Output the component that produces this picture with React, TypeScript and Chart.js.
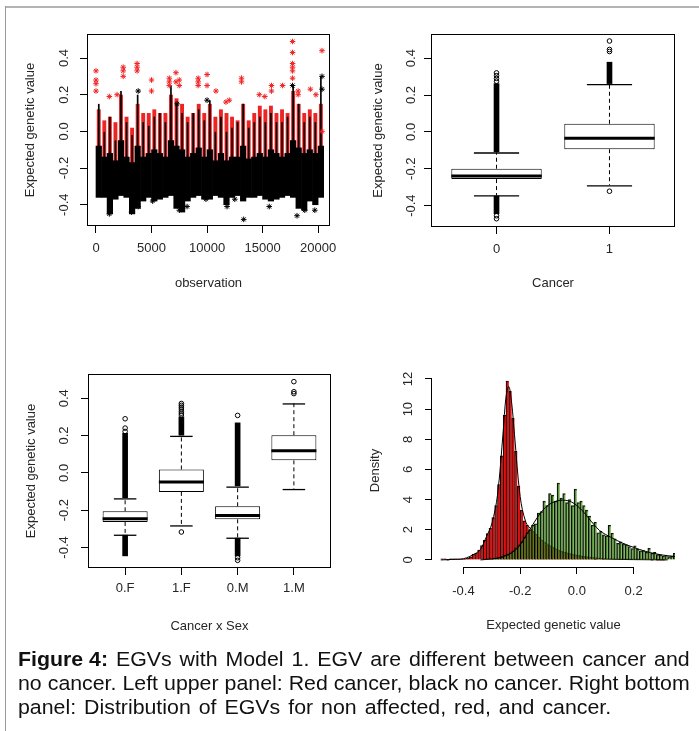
import React, { useEffect, useRef } from 'react';
import { Chart, registerables } from 'chart.js';

Chart.register(...registerables);

const FONT = '"Liberation Sans", Arial, Helvetica, sans-serif';
const TEXT = '#262626';
Chart.defaults.font.family = FONT;

// ---------------- Panel 1: EGV by observation ----------------
const OBS_BLOCK = 500;
const OBS_MIN = -810;
const OBS_MAX = 21070;
const OBS_TICKS = [0, 5000, 10000, 15000, 20000];
const EGV_TICKS = [-0.4, -0.2, 0.0, 0.2, 0.4];
const EGV_MIN = -0.516;
const EGV_MAX = 0.531;

const BLACK_LOW = [-0.36, -0.36, -0.45, -0.37, -0.35, -0.36, -0.45, -0.42, -0.38, -0.36, -0.38, -0.37, -0.36, -0.35, -0.42, -0.44, -0.38, -0.36, -0.35, -0.37, -0.37, -0.35, -0.36, -0.40, -0.36, -0.35, -0.38, -0.36, -0.36, -0.35, -0.37, -0.38, -0.37, -0.36, -0.35, -0.36, -0.42, -0.43, -0.38, -0.40, -0.36];
const BLACK_CORE_HIGH = [-0.08, -0.14, -0.12, -0.16, -0.05, -0.14, -0.17, -0.08, -0.14, -0.12, -0.10, -0.12, -0.14, -0.05, -0.08, -0.10, -0.14, -0.12, -0.09, -0.14, -0.10, -0.16, -0.12, -0.16, -0.14, -0.14, -0.08, -0.15, -0.14, -0.12, -0.14, -0.10, -0.12, -0.14, -0.12, -0.05, -0.09, -0.12, -0.10, -0.12, -0.08];
const BLACK_HIGH = [0.15, 0.00, 0.08, -0.05, 0.22, 0.05, -0.02, 0.20, 0.05, 0.03, 0.08, 0.10, 0.05, 0.25, 0.15, 0.10, 0.05, 0.10, 0.12, 0.06, 0.17, 0.00, 0.08, 0.00, 0.02, 0.05, 0.15, 0.02, 0.05, 0.08, 0.05, 0.10, 0.05, 0.05, 0.08, 0.25, 0.15, 0.05, 0.08, 0.05, 0.30];
const RED_LOW = [-0.25, -0.26, -0.30, -0.27, -0.25, -0.26, -0.30, -0.30, -0.28, -0.27, -0.26, -0.26, -0.25, -0.24, -0.28, -0.29, -0.26, -0.25, -0.24, -0.26, -0.25, -0.24, -0.25, -0.27, -0.25, -0.25, -0.26, -0.25, -0.24, -0.24, -0.25, -0.26, -0.25, -0.25, -0.24, -0.25, -0.28, -0.28, -0.26, -0.27, -0.25];
const RED_HIGH = [0.12, 0.06, 0.08, 0.05, 0.20, 0.08, 0.02, 0.15, 0.10, 0.10, 0.12, 0.10, 0.10, 0.20, 0.18, 0.15, 0.08, 0.10, 0.15, 0.10, 0.15, 0.08, 0.12, 0.10, 0.08, 0.06, 0.15, 0.06, 0.10, 0.14, 0.12, 0.14, 0.10, 0.12, 0.10, 0.22, 0.15, 0.10, 0.12, 0.10, 0.15];

const RED_STAR_OBS = [0, 0, 0, 0, 1200, 1900, 2450, 2450, 2450, 3700, 3700, 3700, 5000, 5000, 6600, 6600, 6600, 7200, 7200, 7500, 7500, 9200, 9200, 9200, 10000, 10000, 10800, 11700, 12000, 13100, 13100, 14700, 15200, 15800, 15800, 16800, 17700, 17700, 17700, 17700, 17700, 17700, 18200, 18200, 19300, 19800, 20350, 20350];
const RED_STAR_EGV = [0.33, 0.28, 0.26, 0.22, 0.19, 0.20, 0.35, 0.33, 0.30, 0.37, 0.35, 0.33, 0.28, 0.22, 0.29, 0.27, 0.25, 0.32, 0.27, 0.28, 0.25, 0.29, 0.27, 0.25, 0.31, 0.25, 0.22, 0.16, 0.17, 0.29, 0.27, 0.20, 0.19, 0.25, 0.22, 0.25, 0.49, 0.43, 0.37, 0.35, 0.33, 0.29, 0.22, 0.20, 0.23, 0.20, 0.44, 0.00];
const BLACK_STAR_OBS = [3800, 7300, 10000, 20350, 20350, 17700, 3200, 3800, 5100, 7500, 8200, 9900, 11800, 13300, 15600, 18100, 18800, 19700, 12500, 1200];
const BLACK_STAR_EGV = [0.22, 0.15, 0.17, 0.30, 0.23, 0.25, -0.44, -0.41, -0.38, -0.43, -0.41, -0.37, -0.41, -0.48, -0.41, -0.46, -0.43, -0.43, -0.37, -0.45];

// ---------------- Panel 2: boxplot by Cancer ----------------
const CANCER_LABELS = ['0', '1'];
const C_Q1 = [-0.256, -0.094];
const C_MED = [-0.231, -0.026];
const C_Q3 = [-0.200, 0.044];
const C_LW = [-0.344, -0.289];
const C_UW = [-0.111, 0.260];
const C_DENSE_UP_LO = [-0.108, 0.262];
const C_DENSE_UP_HI = [0.262, 0.378];
const C_DENSE_DN_LO = [-0.444, null];
const C_DENSE_DN_HI = [-0.348, null];
const C_OUT_CAT = [1, 1, 1, 1, 1, 1, 2, 2, 2, 2];
const C_OUT_VAL = [0.275, 0.29, 0.305, 0.32, -0.455, -0.471, 0.436, 0.447, 0.493, -0.322];

// ---------------- Panel 3: boxplot by Cancer x Sex ----------------
const CS_LABELS = ['0.F', '1.F', '0.M', '1.M'];
const CS_Q1 = [-0.263, -0.102, -0.249, 0.067];
const CS_MED = [-0.238, -0.041, -0.220, 0.126];
const CS_Q3 = [-0.206, 0.018, -0.179, 0.202];
const CS_LW = [-0.331, -0.281, -0.347, -0.086];
const CS_UW = [-0.136, 0.199, -0.073, 0.373];
const CS_DENSE_UP_LO = [-0.133, 0.202, -0.070, null];
const CS_DENSE_UP_HI = [0.212, 0.300, 0.268, null];
const CS_DENSE_DN_LO = [-0.445, null, -0.445, null];
const CS_DENSE_DN_HI = [-0.334, null, -0.350, null];
const CS_OUT_CAT = [1, 1, 1, 2, 2, 2, 2, 2, 2, 2, 2, 3, 3, 3, 4, 4, 4];
const CS_OUT_VAL = [0.222, 0.24, 0.29, 0.31, 0.32, 0.33, 0.342, 0.352, 0.362, 0.372, -0.317, 0.308, -0.455, -0.469, 0.425, 0.435, 0.489];

// ---------------- Panel 4: density histograms ----------------
const BIN_WIDTH = 0.01;
const RED_BREAK_START = -0.48;
const GREEN_BREAK_START = -0.33;
const RED_DENSITY = [
  0.01, 0.01, 0, 0.01, 0.01, 0.02, 0.05, 0.08, 0.08, 0.1,
  0.2, 0.38, 0.45, 0.65, 0.95, 1.3, 1.75, 2.1, 2.8, 3.6,
  5.0, 6.9, 9.6, 11.86, 11.2, 9.4, 7.2, 4.9, 3.3, 2.6,
  2.3, 2.0, 1.9, 1.7, 1.5, 1.3, 1.15, 1.0, 0.9, 0.8,
  0.7, 0.62, 0.55, 0.5, 0.45, 0.4, 0.35, 0.32, 0.28, 0.25,
  0.22, 0.2, 0.17, 0.15, 0.13, 0.12, 0.1, 0.08, 0.07, 0.06,
  0.05, 0.04, 0.04, 0.03, 0.03, 0.02, 0.02, 0.02, 0.01, 0.01,
  0.01, 0.01, 0.01, 0.01, 0, 0.01, 0, 0, 0, 0.01,
];
const GREEN_DENSITY = [
  0.02, 0.05, 0.05, 0.08, 0.1, 0.15, 0.2, 0.3, 0.35, 0.45,
  0.6, 0.8, 1.0, 1.2, 1.5, 1.8, 2.0, 2.3, 2.4, 3.1,
  3.2, 3.9, 3.6, 4.4, 4.3, 3.9, 5.1, 4.1, 4.4, 3.8,
  4.0, 3.6, 4.7, 3.8, 3.9, 3.6, 3.3, 2.9, 2.3, 2.5,
  1.8, 1.9, 1.66, 1.6, 2.3, 1.77, 1.4, 1.1, 1.2, 1.06,
  1.0, 0.88, 0.75, 0.94, 0.7, 0.6, 0.62, 0.5, 0.77, 0.44,
  0.5, 0.35, 0.33, 0.26, 0.3, 0.22, 0.25, 0.44,
];
const RED_KDE_X = [-0.48, -0.44, -0.40, -0.36, -0.34, -0.32, -0.30, -0.28, -0.26, -0.25, -0.24, -0.23, -0.22, -0.20, -0.18, -0.16, -0.14, -0.12, -0.10, -0.08, -0.06, -0.04, -0.02, 0.00, 0.02, 0.04, 0.06, 0.08, 0.10, 0.14, 0.20, 0.26, 0.32];
const RED_KDE_Y = [0, 0.03, 0.08, 0.4, 0.7, 1.5, 2.4, 4.3, 8.5, 10.8, 11.5, 10.4, 8.3, 4.2, 2.5, 2.0, 1.6, 1.25, 1.0, 0.8, 0.6, 0.48, 0.38, 0.3, 0.23, 0.18, 0.14, 0.1, 0.08, 0.04, 0.02, 0.01, 0];
const GREEN_KDE_X = [-0.34, -0.30, -0.26, -0.22, -0.20, -0.18, -0.16, -0.14, -0.12, -0.10, -0.08, -0.06, -0.04, -0.02, 0.00, 0.02, 0.04, 0.06, 0.08, 0.10, 0.12, 0.14, 0.16, 0.18, 0.20, 0.22, 0.24, 0.26, 0.28, 0.30, 0.32, 0.34, 0.36];
const GREEN_KDE_Y = [0, 0.07, 0.22, 0.6, 1.0, 1.6, 2.2, 2.8, 3.3, 3.65, 3.85, 3.95, 3.95, 3.85, 3.6, 3.25, 2.8, 2.35, 1.95, 1.7, 1.5, 1.3, 1.12, 0.97, 0.83, 0.7, 0.58, 0.48, 0.4, 0.33, 0.28, 0.24, 0.2];
const HIST_X_TICKS = [-0.4, -0.2, 0.0, 0.2];
const DENSITY_TICKS = [0, 2, 4, 6, 8, 10, 12];

// ---------------- helpers ----------------
const fmt1 = (v: number) => (Math.abs(v) < 1e-9 ? '0.0' : v.toFixed(1));
const r3 = (v: number) => Math.round(v * 1000) / 1000;

function yAxis(o: any) {
  return {
    type: 'linear', position: 'left', min: o.min, max: o.max, bounds: 'data',
    afterBuildTicks: (s: any) => { s.ticks = o.ticks.map((v: number) => ({ value: v })); },
    afterFit: (s: any) => { s.width = o.width; },
    grid: { display: true, drawOnChartArea: false, drawTicks: true, tickLength: 7, color: '#000', tickColor: '#000', lineWidth: 1 },
    border: { display: false },
    ticks: { padding: o.tickPad, color: TEXT, font: { size: 13, family: FONT }, minRotation: 90, maxRotation: 90, crossAlign: 'center', autoSkip: false, callback: (v: any) => o.fmt(Number(v)) },
    title: { display: true, text: o.title, color: TEXT, font: { size: 13, family: FONT }, padding: { top: o.titlePad, bottom: 0 } },
  };
}
function xAxis(o: any) {
  return {
    type: 'linear', position: 'bottom', min: o.min, max: o.max, offset: false, bounds: 'data',
    afterBuildTicks: (s: any) => { s.ticks = o.ticks.map((v: number) => ({ value: v })); },
    afterFit: (s: any) => { s.height = o.height; },
    grid: { display: true, drawOnChartArea: false, drawTicks: true, tickLength: 7, color: '#000', tickColor: '#000', lineWidth: 1, offset: false },
    border: { display: false },
    ticks: { padding: o.tickPad, color: TEXT, font: { size: 13, family: FONT }, minRotation: 0, maxRotation: 0, autoSkip: false, callback: (v: any) => o.fmt(Number(v)) },
    title: { display: true, text: o.title, color: TEXT, font: { size: 13, family: FONT }, padding: { top: 0, bottom: o.titlePad } },
  };
}
function baseOptions(top: number, right: number, scales: any) {
  return {
    responsive: false, animation: false, devicePixelRatio: 1, events: [],
    layout: { padding: { top, right, left: 0, bottom: 0 } },
    plugins: { legend: { display: false }, tooltip: { enabled: false } },
    scales,
  };
}
const boxFrame = {
  id: 'boxFrame',
  afterDatasetsDraw(chart: any) {
    const { ctx, chartArea: a } = chart;
    ctx.save();
    ctx.strokeStyle = '#000';
    ctx.lineWidth = 1;
    ctx.strokeRect(Math.round(a.left) + 0.5, Math.round(a.top) + 0.5, Math.round(a.right - a.left) - 1, Math.round(a.bottom - a.top) - 1);
    ctx.restore();
  },
};
const axisLines = {
  id: 'axisLines',
  afterDraw(chart: any) {
    const { ctx, chartArea: a, scales } = chart;
    const xs = scales.x, ys = scales.y;
    const xt = xs.ticks, yt = ys.ticks;
    ctx.save();
    ctx.strokeStyle = '#000';
    ctx.lineWidth = 1;
    ctx.beginPath();
    const yb = Math.round(a.bottom) + 0.5;
    ctx.moveTo(xs.getPixelForValue(xt[0].value), yb);
    ctx.lineTo(xs.getPixelForValue(xt[xt.length - 1].value), yb);
    const xl = Math.round(a.left) - 0.5;
    ctx.moveTo(xl, ys.getPixelForValue(yt[0].value));
    ctx.lineTo(xl, ys.getPixelForValue(yt[yt.length - 1].value));
    ctx.stroke();
    ctx.restore();
  },
};

function boxplotDatasets(s: any) {
  const pos = s.q1.map((_: number, i: number) => i + 1);
  const ds: any[] = [];
  pos.forEach((x: number, i: number) => {
    [[s.q3[i], s.uw[i]], [s.q1[i], s.lw[i]]].forEach(([a, b]) => {
      ds.push({ type: 'line', data: [{ x, y: a }, { x, y: b }], borderColor: '#000', borderWidth: 1, borderDash: [4, 3], pointRadius: 0, fill: false, order: 10 });
    });
  });
  const bar = (data: any[], extra: any) => ({ type: 'bar', data, grouped: false, categoryPercentage: 1, borderSkipped: false, ...extra });
  ds.push(bar(pos.map((x: number, i: number) => ({ x, y: [s.q1[i], s.q3[i]] })), { backgroundColor: '#fff', borderColor: '#000', borderWidth: 1, barPercentage: 0.8, order: 8 }));
  ds.push(bar(pos.map((x: number, i: number) => ({ x, y: [s.med[i], s.med[i]] })), { backgroundColor: '#000', borderWidth: 0, barPercentage: 0.8, minBarLength: 3, base: (c: any) => s.med[c.dataIndex], order: 7 }));
  ds.push(bar(pos.map((x: number, i: number) => ({ x, y: [s.uw[i], s.uw[i]] })), { backgroundColor: '#000', borderWidth: 0, barPercentage: 0.4, minBarLength: 1.3, base: (c: any) => s.uw[c.dataIndex], order: 6 }));
  ds.push(bar(pos.map((x: number, i: number) => ({ x, y: [s.lw[i], s.lw[i]] })), { backgroundColor: '#000', borderWidth: 0, barPercentage: 0.4, minBarLength: 1.3, base: (c: any) => s.lw[c.dataIndex], order: 6 }));
  const dense: any[] = [];
  pos.forEach((x: number, i: number) => {
    if (s.upLo[i] !== null) dense.push({ x, y: [s.upLo[i], s.upHi[i]] });
    if (s.dnLo[i] !== null) dense.push({ x, y: [s.dnLo[i], s.dnHi[i]] });
  });
  ds.push(bar(dense, { backgroundColor: '#000', borderWidth: 0, barThickness: 5, order: 5 }));
  ds.push({ type: 'scatter', data: s.outCat.map((c: number, i: number) => ({ x: c, y: s.outVal[i] })), pointStyle: 'circle', pointRadius: 2.3, borderWidth: 1, borderColor: '#000', backgroundColor: 'rgba(255,255,255,0)', order: 1 });
  return ds;
}

// ---------------- chart configs ----------------
function configObservation() {
  const mids = BLACK_LOW.map((_, i) => i * OBS_BLOCK + OBS_BLOCK / 2);
  const bar = (data: any[], extra: any) => ({ type: 'bar', data, grouped: false, categoryPercentage: 1, borderWidth: 0, ...extra });
  return {
    type: 'bar',
    data: {
      datasets: [
        bar(mids.map((x, i) => ({ x, y: [RED_LOW[i], RED_HIGH[i]] })), { backgroundColor: '#ec2424', barPercentage: 0.7, order: 5 }),
        bar(mids.map((x, i) => ({ x, y: [BLACK_LOW[i], BLACK_CORE_HIGH[i]] })), { backgroundColor: '#000', barPercentage: 1, order: 4 }),
        bar(mids.map((x, i) => ({ x, y: [BLACK_CORE_HIGH[i], BLACK_HIGH[i]] })), { backgroundColor: '#000', barPercentage: 0.3, order: 3 }),
        { type: 'scatter', data: RED_STAR_OBS.map((x, i) => ({ x, y: RED_STAR_EGV[i] })), pointStyle: 'star', pointRadius: 2.8, borderWidth: 1, borderColor: '#f02424', order: 2 },
        { type: 'scatter', data: BLACK_STAR_OBS.map((x, i) => ({ x, y: BLACK_STAR_EGV[i] })), pointStyle: 'star', pointRadius: 2.8, borderWidth: 1, borderColor: '#000', order: 1 },
      ],
    },
    options: baseOptions(34, 20, {
      x: xAxis({ min: OBS_MIN, max: OBS_MAX, ticks: OBS_TICKS, height: 84, tickPad: 8, titlePad: 18.9, title: 'observation', fmt: (v: number) => String(v) }),
      y: yAxis({ min: EGV_MIN, max: EGV_MAX, ticks: EGV_TICKS, width: 87, tickPad: 4.5, titlePad: 22.2, title: 'Expected genetic value', fmt: fmt1 }),
    }),
    plugins: [boxFrame],
  };
}
function configCancer() {
  return {
    type: 'bar',
    data: { datasets: boxplotDatasets({ q1: C_Q1, med: C_MED, q3: C_Q3, lw: C_LW, uw: C_UW, upLo: C_DENSE_UP_LO, upHi: C_DENSE_UP_HI, dnLo: C_DENSE_DN_LO, dnHi: C_DENSE_DN_HI, outCat: C_OUT_CAT, outVal: C_OUT_VAL }) },
    options: baseOptions(34, 24, {
      x: xAxis({ min: 0.42, max: 2.58, ticks: [1, 2], height: 83, tickPad: 8, titlePad: 18.9, title: 'Cancer', fmt: (v: number) => CANCER_LABELS[v - 1] }),
      y: yAxis({ min: EGV_MIN, max: EGV_MAX, ticks: EGV_TICKS, width: 81, tickPad: 1.5, titlePad: 20.5, title: 'Expected genetic value', fmt: fmt1 }),
    }),
    plugins: [boxFrame],
  };
}
function configCancerSex() {
  return {
    type: 'bar',
    data: { datasets: boxplotDatasets({ q1: CS_Q1, med: CS_MED, q3: CS_Q3, lw: CS_LW, uw: CS_UW, upLo: CS_DENSE_UP_LO, upHi: CS_DENSE_UP_HI, dnLo: CS_DENSE_DN_LO, dnHi: CS_DENSE_DN_HI, outCat: CS_OUT_CAT, outVal: CS_OUT_VAL }) },
    options: baseOptions(54, 19, {
      x: xAxis({ min: 0.34, max: 4.66, ticks: [1, 2, 3, 4], height: 82, tickPad: 6, titlePad: 16.2, title: 'Cancer x Sex', fmt: (v: number) => CS_LABELS[v - 1] }),
      y: yAxis({ min: -0.51, max: 0.53, ticks: EGV_TICKS, width: 88, tickPad: 5.5, titlePad: 23.9, title: 'Expected genetic value', fmt: fmt1 }),
    }),
    plugins: [boxFrame],
  };
}
function configHistogram() {
  const redMid = RED_DENSITY.map((_, i) => r3(RED_BREAK_START + BIN_WIDTH * (i + 0.5)));
  const greenMid = GREEN_DENSITY.map((_, i) => r3(GREEN_BREAK_START + BIN_WIDTH * (i + 0.5)));
  return {
    type: 'bar',
    data: {
      datasets: [
        { type: 'bar', data: redMid.map((x, i) => ({ x, y: RED_DENSITY[i] })), grouped: false, barPercentage: 1, categoryPercentage: 1, backgroundColor: '#d81212', borderColor: '#000', borderWidth: { top: 1, left: 1, right: 0, bottom: 0 }, borderSkipped: false, minBarLength: 1, order: 4 },
        { type: 'line', data: RED_KDE_X.map((x, i) => ({ x, y: RED_KDE_Y[i] })), borderColor: '#000', borderWidth: 1, pointRadius: 0, tension: 0.35, fill: false, order: 3 },
        { type: 'bar', data: greenMid.map((x, i) => ({ x, y: GREEN_DENSITY[i] })), grouped: false, barPercentage: 1, categoryPercentage: 1, backgroundColor: 'rgba(80,160,35,0.68)', borderColor: 'rgba(0,0,0,0.95)', borderWidth: { top: 1, left: 1.2, right: 0, bottom: 0 }, borderSkipped: false, order: 2 },
        { type: 'line', data: GREEN_KDE_X.map((x, i) => ({ x, y: GREEN_KDE_Y[i] })), borderColor: '#000', borderWidth: 1, pointRadius: 0, tension: 0.35, fill: false, order: 1 },
      ],
    },
    options: baseOptions(54, 24, {
      x: xAxis({ min: -0.511, max: 0.346, ticks: HIST_X_TICKS, height: 83, tickPad: 9.5, titlePad: 17.2, title: 'Expected genetic value', fmt: fmt1 }),
      y: yAxis({ min: -0.47, max: 12.33, ticks: DENSITY_TICKS, width: 82, tickPad: 9, titlePad: 17.2, title: 'Density', fmt: (v: number) => String(v) }),
    }),
    plugins: [axisLines],
  };
}

function Panel({ left, top, width, height, make }: any) {
  const ref = useRef<HTMLCanvasElement>(null);
  useEffect(() => {
    const chart = new Chart(ref.current as HTMLCanvasElement, make());
    return () => chart.destroy();
  }, []);
  return <canvas ref={ref} width={width} height={height} style={{ position: 'absolute', left, top, width, height }} />;
}

const CAPTION_LINE1 = ['EGVs', 'with', 'Model', '1.', 'EGV', 'are', 'different', 'between', 'cancer', 'and'];
const CAPTION_LINE2 = ['no', 'cancer.', 'Left', 'upper', 'panel:', 'Red', 'cancer,', 'black', 'no', 'cancer.', 'Right', 'bottom'];
const CAPTION_LINE3 = 'panel: Distribution of EGVs for non affected, red, and cancer.';

export default function App() {
  const row: any = { display: 'flex', justifyContent: 'space-between', whiteSpace: 'nowrap' };
  return (
    <div style={{ position: 'absolute', left: 0, top: 0, width: 699, height: 731, background: '#fff', overflow: 'hidden' }}>
      <div style={{ position: 'absolute', left: 6, top: 6, width: 693, height: 2, background: '#b4b4b4' }} />
      <div style={{ position: 'absolute', left: 5, top: 6, width: 1, height: 725, background: '#9a9a9a' }} />
      <Panel left={0} top={0} width={350} height={310} make={configObservation} />
      <Panel left={350} top={0} width={349} height={310} make={configCancer} />
      <Panel left={0} top={320} width={350} height={330} make={configCancerSex} />
      <Panel left={350} top={320} width={349} height={330} make={configHistogram} />
      <div style={{ position: 'absolute', left: 18, top: 647, width: 646, fontFamily: FONT, fontSize: 20.5, lineHeight: '24px', color: '#111', transform: 'scaleX(1.04)', transformOrigin: '0 0' }}>
        <div style={row}>
          <b>Figure 4:</b>
          {CAPTION_LINE1.map((w, i) => <span key={i}>{w}</span>)}
        </div>
        <div style={row}>
          {CAPTION_LINE2.map((w, i) => <span key={i}>{w}</span>)}
        </div>
        <div style={{ whiteSpace: 'nowrap', wordSpacing: '2px' }}>{CAPTION_LINE3}</div>
      </div>
    </div>
  );
}
